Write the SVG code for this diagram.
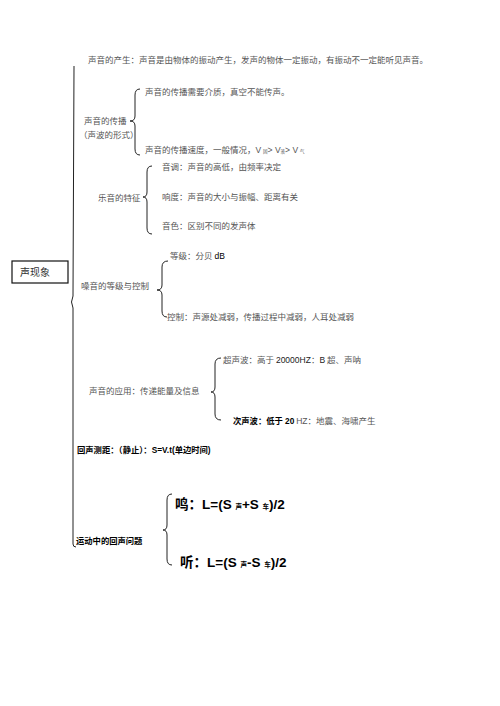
<svg xmlns="http://www.w3.org/2000/svg" width="500" height="706" viewBox="0 0 500 706">
<style>
.t{font-family:"Noto Sans CJK SC","Liberation Sans",sans-serif;font-size:8.5px;fill:#555}
.b{font-family:"Liberation Sans","Noto Sans CJK SC",sans-serif;font-weight:bold;font-size:8.3px;fill:#000}
.f{font-family:"Liberation Sans","Noto Sans CJK SC",sans-serif;font-weight:bold;font-size:13.5px;fill:#000}
.br{fill:none;stroke:#222;stroke-width:1}
.sub{font-size:4.5px}
.fs{font-size:6.5px}
</style>
<rect width="500" height="706" fill="#fff"/>
<g id="connectors">
<path class="br" d="M74 66 L73 296 L71.5 302 L73 308 L73 544 Q73 547 76 547" stroke-width="1.2"/>
<path class="br" d="M140 89 Q135 89 135 95 L135 116 Q135 121 130 121 Q135 121 135 126 L135 149 Q135 155 140 155"/>
<path class="br" d="M152 166 Q147 166 147 172 L147 192 Q147 197 143 197 Q147 197 147 202 L147 228 Q147 234 152 234"/>
<path class="br" d="M168 261 Q162 261 162 267 L162 285 Q162 290 157 290 Q162 290 162 295 L162 311 Q162 317 167 317"/>
<path class="br" d="M221 358 Q215 358 215 364 L215 387 Q215 392 211 392 Q215 392 215 397 L215 414 Q215 420 221 420"/>
<path class="br" d="M172 494 Q167 494 167 500 L167 525 Q167 530 163 530 Q167 530 167 535 L167 559 Q167 565 172 565"/>
</g>
<g id="root">
<rect x="12" y="261" width="56" height="22" fill="none" stroke="#111" stroke-width="1.2"/>
<text class="t" x="20" y="276" style="font-size:10px;fill:#333">声现象</text>
</g>
<g id="n-produce"><text class="t" x="88" y="63">声音的产生：声音是由物体的振动产生，发声的物体一定振动，有振动不一定能听见声音。</text></g>
<g id="n-propagate">
<text class="t" x="84" y="124">声音的传播</text>
<text class="t" x="79" y="138">（声波的形式）</text>
</g>
<g id="n-medium"><text class="t" x="145" y="95">声音的传播需要介质，真空不能传声。</text></g>
<g id="n-speed"><text class="t" x="145" y="153">声音的传播速度，一般情况，<tspan font-family="Liberation Sans">V</tspan> <tspan class="sub">固</tspan><tspan font-family="Liberation Sans">&gt; V</tspan><tspan class="sub">液</tspan><tspan font-family="Liberation Sans">&gt; V</tspan> <tspan class="sub">气</tspan></text></g>
<g id="n-music"><text class="t" x="98" y="201">乐音的特征</text></g>
<g id="n-pitch"><text class="t" x="162" y="170">音调：声音的高低，由频率决定</text></g>
<g id="n-loud"><text class="t" x="162" y="200">响度：声音的大小与振幅、距离有关</text></g>
<g id="n-timbre"><text class="t" x="162" y="229">音色：区别不同的发声体</text></g>
<g id="n-noise"><text class="t" x="81" y="289">噪音的等级与控制</text></g>
<g id="n-level"><text class="t" x="170" y="259">等级：分贝 <tspan font-family="Liberation Sans" fill="#000">dB</tspan></text></g>
<g id="n-control"><text class="t" x="167" y="320">控制：声源处减弱，传播过程中减弱，人耳处减弱</text></g>
<g id="n-apply"><text class="t" x="89" y="394">声音的应用：传递能量及信息</text></g>
<g id="n-ultra"><text class="t" x="223" y="363">超声波：高于 <tspan font-family="Liberation Sans" fill="#222">20000HZ</tspan>：<tspan font-family="Liberation Sans" fill="#222">B</tspan> 超、声呐</text></g>
<g id="n-infra"><text class="t" x="233" y="424"><tspan class="b">次声波：低于 20</tspan> <tspan font-family="Liberation Sans">HZ</tspan>：地震、海啸产生</text></g>
<g id="n-echo"><text class="b" x="77" y="453">回声测距：（静止）：S=V.t(单边时间)</text></g>
<g id="n-moving"><text class="b" x="76" y="544">运动中的回声问题</text></g>
<g id="n-whistle"><text class="f" x="175" y="509">鸣：L=(S <tspan class="fs">声</tspan>+S <tspan class="fs">车</tspan>)/2</text></g>
<g id="n-hear"><text class="f" x="180" y="567">听：L=(S <tspan class="fs">声</tspan>-S <tspan class="fs">车</tspan>)/2</text></g>
</svg>
